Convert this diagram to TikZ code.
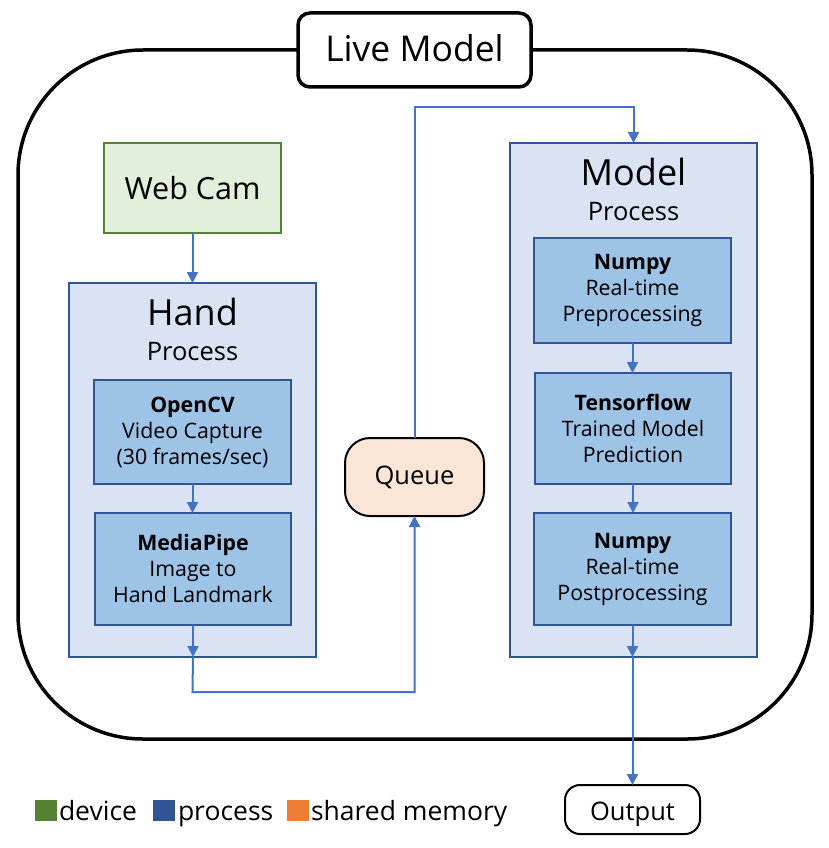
\documentclass[tikz,border=0pt]{standalone}
\usepackage{fontspec}
\setmainfont{Open Sans}
\usetikzlibrary{arrows.meta}
\definecolor{devgreen}{HTML}{548235}
\definecolor{devfill}{HTML}{E2EFDA}
\definecolor{procblue}{HTML}{2F5597}
\definecolor{procfill}{HTML}{DAE3F3}
\definecolor{subfill}{HTML}{9DC3E6}
\definecolor{arrblue}{HTML}{4472C4}
\definecolor{qfill}{HTML}{FBE5D6}
\definecolor{memorange}{HTML}{ED7D31}
\begin{document}
\begin{tikzpicture}[x=1pt,y=-1pt,
  every node/.style={inner sep=0pt, outer sep=0pt},
  procbox/.style={draw=procblue, fill=procfill, line width=2pt},
  subbox/.style={draw=procblue, fill=subfill, line width=2pt, align=center,
    font=\fontsize{21.3}{26}\selectfont},
  arr/.style={draw=arrblue, line width=2pt, -{Triangle[length=11pt,width=11pt]}},
  legsq/.style={minimum width=22pt, minimum height=21pt},
  legtxt/.style={anchor=base west, font=\fontsize{26.5}{30}\selectfont}
]
\useasboundingbox (0,0) rectangle (828,848);

% outer frame
\node[draw, line width=3.5pt, rounded corners=125pt, minimum width=794pt, minimum height=689pt] (outer) at (415,394.5) {};
\node[draw, fill=white, line width=3.5pt, rounded corners=12pt, minimum width=233pt, minimum height=74pt] (live) at (414.5,50) {};
\node[anchor=base, font=\fontsize{35.5}{40}\selectfont] (liveT) at (414.5,62) {Live Model};

% web cam
\node[draw=devgreen, fill=devfill, line width=2pt, minimum width=177pt, minimum height=90pt,
  font=\fontsize{30.5}{36}\selectfont] (cam) at (192.5,188) {Web Cam};

% hand process
\node[procbox, minimum width=247pt, minimum height=374pt] (hp) at (192.5,470) {};
\node[anchor=base, font=\fontsize{36}{40}\selectfont] (hpT) at (192.5,325) {Hand};
\node[anchor=base, font=\fontsize{25.5}{30}\selectfont] (hpP) at (192.5,360) {Process};
\node[subbox, minimum width=197pt, minimum height=104pt] (cv) at (192.5,432)
  {\textbf{OpenCV}\\Video Capture\\(30 frames/sec)};
\node[subbox, minimum width=196pt, minimum height=112pt] (mp) at (193,569)
  {\textbf{MediaPipe}\\Image to\\Hand Landmark};

% queue
\node[draw, fill=qfill, line width=2pt, rounded corners=25pt, minimum width=139pt, minimum height=78pt,
  font=\fontsize{25.5}{30}\selectfont] (queue) at (414.5,477) {Queue};

% model process
\node[procbox, minimum width=247pt, minimum height=514pt] (mproc) at (633.5,400) {};
\node[anchor=base, font=\fontsize{36}{40}\selectfont] (mpT) at (633.5,185) {Model};
\node[anchor=base, font=\fontsize{25.5}{30}\selectfont] (mpP) at (633.5,220) {Process};
\node[subbox, minimum width=197pt, minimum height=105pt] (np1) at (632.5,290.5)
  {\textbf{Numpy}\\Real-time\\Preprocessing};
\node[subbox, minimum width=196pt, minimum height=111pt] (tf) at (633,428.5)
  {\textbf{Tensorflow}\\Trained Model\\Prediction};
\node[subbox, minimum width=197pt, minimum height=112pt] (np2) at (632.5,569)
  {\textbf{Numpy}\\Real-time\\Postprocessing};

% output
\node[draw, fill=white, line width=2pt, rounded corners=15pt, minimum width=135pt, minimum height=49pt] (out) at (632.5,809.5) {};
\node[anchor=base, font=\fontsize{25.5}{30}\selectfont] (outT) at (632.5,820) {Output};

% connectors
\coordinate (c1) at (192.5,692);
\coordinate (c2) at (414.5,107);
\draw[arr] (cam.south) -- (hp.north);
\draw[arr] (cv.south) -- (cv.south |- mp.north);
\draw[arr] (mp.south) -- (mp.south |- hp.south);
\draw[arr] (mp.south |- hp.south) -- (c1) -| (queue.south);
\draw[arr] (queue.north) -- (c2) -| (mproc.north);
\draw[arr] (np1.south) -- (np1.south |- tf.north);
\draw[arr] (tf.south) -- (tf.south |- np2.north);
\draw[arr] (np2.south) -- (np2.south |- mproc.south);
\draw[arr] (np2.south |- mproc.south) -- (out.north);

% legend
\node[legsq, fill=devgreen] (lg1) at (46,810.5) {};
\node[legtxt] (lt1) at (59,820) {device};
\node[legsq, fill=procblue] (lg2) at (164,810.5) {};
\node[legtxt] (lt2) at (178,820) {process};
\node[legsq, fill=memorange] (lg3) at (298,810.5) {};
\node[legtxt] (lt3) at (311,820) {shared memory};
\end{tikzpicture}
\end{document}
